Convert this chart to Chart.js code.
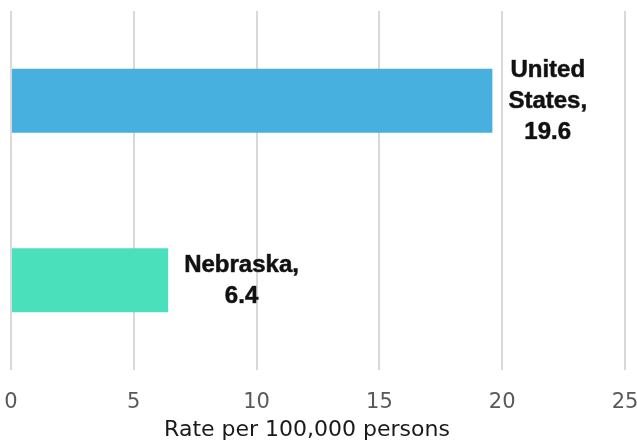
<!DOCTYPE html>
<html>
<head>
<meta charset="utf-8">
<script src="https://cdn.jsdelivr.net/npm/chart.js@4"></script>
<style>
  html, body { margin: 0; padding: 0; background: #fff; }
  #chart { display: block; }
</style>
</head>
<body>
<canvas id="chart" width="637" height="443"></canvas>
<script>
// --- DATOS ---
const categories = ['United States', 'Nebraska'];
const rates = [19.6, 6.4];
const barColors = ['#47b0df', '#4be0bc'];
const xTicks = [0, 5, 10, 15, 20, 25];
const labelLines = [['United', 'States,', '19.6'], ['Nebraska,', '6.4']];

// --- ETIQUETAS DE BARRA ---
const barLabels = {
    id: 'barLabels',
    afterDatasetsDraw(chart) {
        const ctx = chart.ctx;
        const meta = chart.getDatasetMeta(0);
        ctx.save();
        ctx.font = 'bold 24px "Liberation Sans", Arial, sans-serif';
        ctx.textAlign = 'center';
        ctx.textBaseline = 'middle';
        ctx.fillStyle = '#111';
        ctx.strokeStyle = '#555';
        ctx.lineWidth = 0.7;
        meta.data.forEach((bar, i) => {
            const txt = labelLines[i];
            const w = Math.max(...txt.map(t => ctx.measureText(t).width));
            const cx = bar.x + 16 + w / 2;
            const lh = 31;
            const top = bar.y + 1 - (txt.length - 1) * lh / 2;
            txt.forEach((t, j) => {
                ctx.strokeText(t, cx, top + j * lh);
                ctx.fillText(t, cx, top + j * lh);
            });
        });
        ctx.restore();
    }
};

// --- TÍTULO DEL EJE (algo a la izquierda del centro) ---
const axisTitle = {
    id: 'axisTitle',
    afterDraw(chart) {
        const ctx = chart.ctx;
        const area = chart.chartArea;
        ctx.save();
        ctx.font = '22px "DejaVu Sans"';
        ctx.fillStyle = '#1a1a1a';
        ctx.textAlign = 'center';
        ctx.textBaseline = 'middle';
        ctx.fillText('Rate per 100,000 persons', (area.left + area.right) / 2 - 11, 430);
        ctx.restore();
    }
};

new Chart(document.getElementById('chart'), {
    type: 'bar',
    data: {
        labels: categories,
        datasets: [{
            data: rates,
            backgroundColor: barColors,
            borderWidth: 0,
            barPercentage: 0.357,
            categoryPercentage: 1
        }]
    },
    options: {
        indexAxis: 'y',
        responsive: false,
        animation: false,
        layout: { padding: { left: 0, right: 0, top: 11, bottom: 0 } },
        plugins: { legend: { display: false }, tooltip: { enabled: false } },
        scales: {
            x: {
                min: 0,
                max: 25,
                afterBuildTicks: s => { s.ticks = xTicks.map(v => ({ value: v })); },
                afterFit: s => { s.paddingLeft = 11; s.paddingRight = 12; s.height = 73; },
                grid: { color: '#d9d9d9', lineWidth: 2, drawTicks: true, tickLength: 0 },
                border: { display: false },
                ticks: {
                    color: '#595959',
                    padding: 20,
                    font: { family: 'DejaVu Sans', size: 21 }
                }
            },
            y: {
                display: false
            }
        }
    },
    plugins: [barLabels, axisTitle]
});
</script>
</body>
</html>
